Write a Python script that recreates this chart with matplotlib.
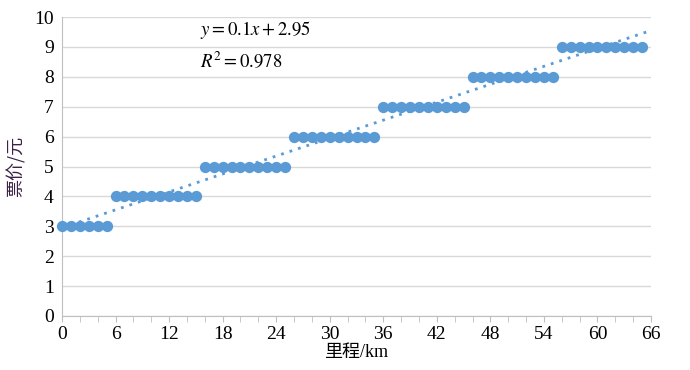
import matplotlib.pyplot as plt
import numpy as np

plt.rcParams['font.family'] = ['Liberation Serif', 'Noto Sans CJK SC']

# mileage (km) and fare (yuan)
km = list(range(0, 66))
fare = [3]*6 + [4]*10 + [5]*10 + [6]*10 + [7]*10 + [8]*10 + [9]*10

# linear trendline shown on chart
slope = 0.1
intercept = 2.95
r2 = 0.978

xticks = list(range(0, 67, 6))
yticks = list(range(0, 11))

fig = plt.figure(figsize=(6.9, 3.7), dpi=100)
ax = fig.add_axes([62/690, 1-316/370, 589/690, 299/370])

blue = '#5B9BD5'
ax.scatter(km, fare, s=66, color=blue, zorder=3, clip_on=False, linewidths=0)

xt = np.array([0, 66])
ax.plot(xt, slope*xt + intercept, color=blue, ls=(0, (1, 2.2)), lw=2, zorder=4)

ax.set_xlim(0, 66)
ax.set_ylim(0, 10)
ax.set_xticks(xticks)
ax.set_xticks(range(0, 67, 2), minor=True)
ax.set_yticks(yticks)
ax.grid(axis='y', color='#d9d9d9', lw=1)
ax.set_axisbelow(True)
for s in ['top', 'right']:
    ax.spines[s].set_visible(False)
for s in ['left', 'bottom']:
    ax.spines[s].set_color('#bfbfbf')
ax.tick_params(axis='x', which='both', direction='out', length=4, color='#bfbfbf', labelsize=14, pad=3)
ax.tick_params(axis='y', length=0, labelsize=14, pad=6)

ax.set_xlabel('里程/km', fontsize=13, labelpad=1,
              family=['Liberation Serif', 'Noto Sans CJK SC'])
ax.set_ylabel('票价/元', fontsize=13, color='#3b1f45', labelpad=6,
              family=['Noto Sans CJK SC'])

ax.text(15.5, 9.55, r'$y = %.1fx + %.2f$' % (slope, intercept), fontsize=13.5,
        va='center', math_fontfamily='stix')
ax.text(15.5, 8.5, r'$R^2 = %.3f$' % r2, fontsize=13.5, va='center',
        math_fontfamily='stix')

fig.savefig('out.png', dpi=100)
